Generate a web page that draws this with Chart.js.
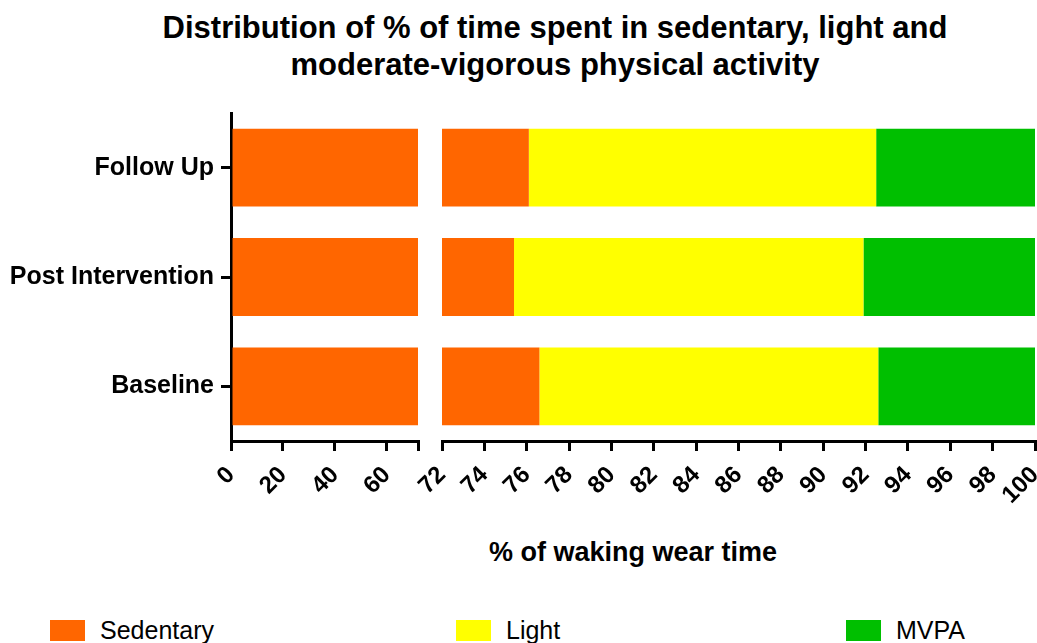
<!DOCTYPE html>
<html>
<head>
<meta charset="utf-8">
<script src="https://cdn.jsdelivr.net/npm/chart.js@4.4.0/dist/chart.umd.min.js"></script>
<style>
  html, body { margin: 0; padding: 0; background: #fff; overflow: hidden; }
  body { width: 1037px; height: 643px; position: relative; font-family: "Liberation Sans", Arial, sans-serif; color: #000; }
  #title { position: absolute; left: 100px; top: 9px; width: 910px; text-align: center; font-weight: bold; font-size: 31px; line-height: 37px; }
  #xtitle { position: absolute; left: 383px; top: 537px; width: 500px; text-align: center; font-weight: bold; font-size: 27px; }
  .leg { position: absolute; top: 616px; font-size: 25px; line-height: 28px; display: flex; align-items: center; }
  .leg .box { display: inline-block; width: 35px; height: 21px; margin-right: 15px; }
  #left { position: absolute; left: 0; top: 0; }
  #right { position: absolute; left: 380px; top: 0; }
</style>
</head>
<body>
<div id="title">Distribution of % of time spent in sedentary, light and<br>moderate-vigorous physical activity</div>
<canvas id="left" width="430" height="520"></canvas>
<canvas id="right" width="657" height="520"></canvas>
<div id="xtitle">% of waking wear time</div>
<div id="legend"></div>

<script>
// данные (снизу вверх на графике идёт Baseline)
const categories = ['Follow Up', 'Post Intervention', 'Baseline'];
const sedentary = [76.1, 75.4, 76.6];
const light = [16.4, 16.5, 16.0];
const mvpa = [7.5, 8.1, 7.4];

const seriesNames = ['Sedentary', 'Light', 'MVPA'];
const seriesColors = ['#FF6600', '#FFFF00', '#00BF00'];

// разрыв оси: 0–72 слева, 72–100 справа
const leftTicks = [0, 20, 40, 60, 72];
const leftTickLabels = ['0', '20', '40', '60', ''];
const rightTicks = [72, 74, 76, 78, 80, 82, 84, 86, 88, 90, 92, 94, 96, 98, 100];
const rightTickLabels = ['72', '74', '76', '78', '80', '82', '84', '86', '88', '90', '92', '94', '96', '98', '100'];

const FONT = '"Liberation Sans", Arial, sans-serif';

function makeDatasets() {
    return [sedentary, light, mvpa].map((vals, i) => ({
        label: seriesNames[i],
        data: vals,
        backgroundColor: seriesColors[i],
        borderWidth: 0,
        categoryPercentage: 0.8,
        barPercentage: 0.89
    }));
}

function xAxis(min, max, ticks, labels) {
    return {
        type: 'linear',
        stacked: true,
        min: min,
        max: max,
        afterBuildTicks: scale => { scale.ticks = ticks.map(v => ({ value: v })); },
        afterFit: scale => { scale.height = 79; scale.paddingLeft = 0; scale.paddingRight = 0; },
        ticks: {
            autoSkip: false,
            minRotation: 45,
            maxRotation: 45,
            padding: 10,
            color: '#000',
            font: { family: FONT, size: 24, weight: 'bold' },
            callback: (v, i) => labels[i]
        },
        grid: {
            display: true,
            drawOnChartArea: false,
            drawTicks: true,
            tickLength: 10,
            color: '#000',
            lineWidth: 3
        },
        border: { display: true, color: '#000', width: 3 }
    };
}

const common = {
    responsive: false,
    animation: false,
    indexAxis: 'y',
    plugins: { legend: { display: false }, tooltip: { enabled: false } }
};

new Chart(document.getElementById('left'), {
    type: 'bar',
    data: { labels: categories, datasets: makeDatasets() },
    options: {
        ...common,
        layout: { padding: { top: 113, right: 12, left: 0, bottom: 0 } },
        scales: {
            x: xAxis(0, 72, leftTicks, leftTickLabels),
            y: {
                stacked: true,
                afterFit: scale => { scale.width = 231; },
                ticks: {
                    padding: 7,
                    color: '#000',
                    font: { family: FONT, size: 25, weight: 'bold' }
                },
                grid: {
                    display: true,
                    offset: false,
                    drawOnChartArea: false,
                    tickLength: 10,
                    color: '#000',
                    lineWidth: 3
                },
                border: { display: true, color: '#000', width: 3 }
            }
        }
    }
});

new Chart(document.getElementById('right'), {
    type: 'bar',
    data: { labels: categories, datasets: makeDatasets() },
    options: {
        ...common,
        layout: { padding: { top: 113, right: 2, left: 62, bottom: 0 } },
        scales: {
            x: xAxis(72, 100, rightTicks, rightTickLabels),
            y: { stacked: true, display: false }
        }
    }
});

// легенда
const legendX = [50, 456, 846];
const legend = document.getElementById('legend');
seriesNames.forEach((name, i) => {
    const item = document.createElement('div');
    item.className = 'leg';
    item.style.left = legendX[i] + 'px';
    item.innerHTML = '<span class="box" style="background:' + seriesColors[i] + '"></span>' + name;
    legend.appendChild(item);
});
</script>
</body>
</html>
